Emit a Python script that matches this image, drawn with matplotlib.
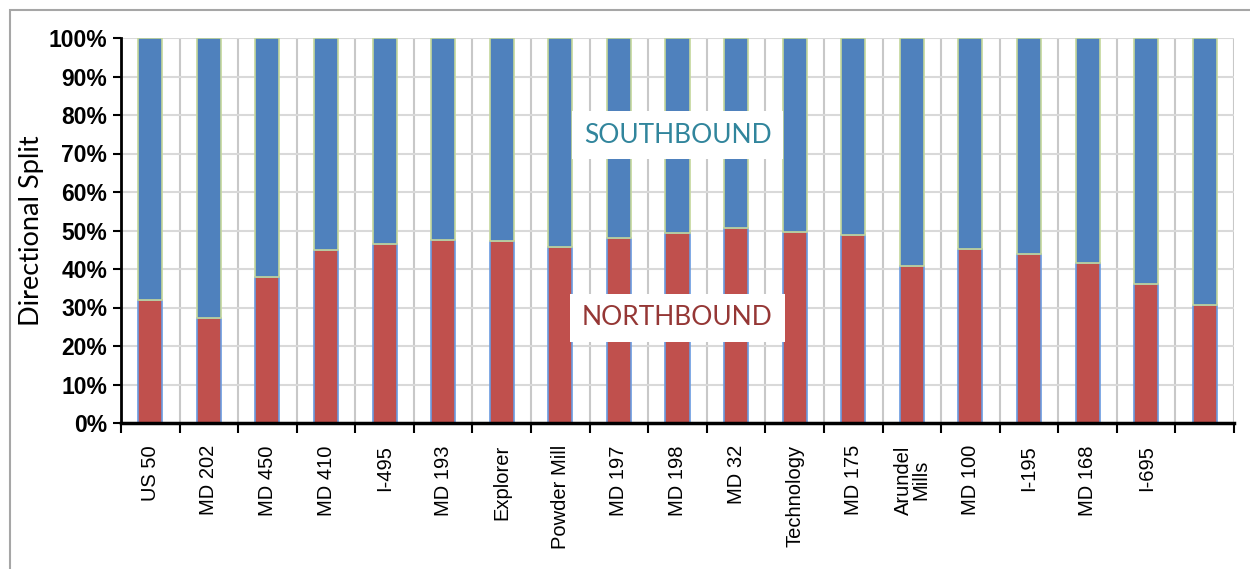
import matplotlib
matplotlib.use("Agg")
import matplotlib.pyplot as plt
from matplotlib.patches import Rectangle
from matplotlib.ticker import FixedLocator, PercentFormatter

# Count locations along the corridor, south to north
locations = ["US 50", "MD 202", "MD 450", "MD 410", "I-495", "MD 193", "Explorer",
             "Powder Mill", "MD 197", "MD 198", "MD 32", "Technology", "MD 175",
             "Arundel\nMills", "MD 100", "I-195", "MD 168", "I-695", ""]

# Share of traffic travelling northbound (%)
northbound = [31.9, 27.3, 38.0, 44.9, 46.4, 47.5, 47.2, 45.6, 48.1, 49.3, 50.7,
              49.7, 48.8, 40.8, 45.3, 43.9, 41.5, 36.2, 30.6]
# Southbound is the remainder of each location's total
southbound = [100 - v for v in northbound]

y_ticks = list(range(0, 101, 10))

NB_COLOR = "#c0504d"
SB_COLOR = "#4f81bd"

fig = plt.figure(figsize=(12.5, 5.69), dpi=100)
W, H = 1250, 569

# Outer chart-area frame
fig.patches.append(Rectangle((10 / W, -0.1), 1.2, (559 / H) + 0.1,
                             transform=fig.transFigure, fill=False,
                             edgecolor="#a6a6a6", linewidth=1.5))

left, right, top, bottom = 121, 1234, 38, 423
ax = fig.add_axes([left / W, 1 - bottom / H, (right - left) / W, (bottom - top) / H])

n = len(locations)
x = list(range(n))
ax.bar(x, northbound, width=0.41, color=NB_COLOR, edgecolor="#6a9be0",
       linewidth=1.2, zorder=3)
ax.bar(x, southbound, width=0.41, bottom=northbound, color=SB_COLOR,
       edgecolor="#c4d79b", linewidth=1.2, zorder=3)

ax.set_xlim(-0.5, n - 0.5)
ax.set_ylim(0, 100)

# Category labels at centres, ticks and vertical grid at category boundaries
ax.set_xticks(x)
ax.set_xticklabels(locations, rotation=90, fontsize=14.5, family="Liberation Sans",
                   va="top", ha="center", linespacing=0.9)
ax.tick_params(axis="x", which="major", length=0, pad=16)
bounds = [i - 0.5 for i in range(n + 1)]
ax.xaxis.set_minor_locator(FixedLocator(bounds))
ax.tick_params(axis="x", which="minor", length=7, width=1.5, direction="out",
               color="black")

ax.set_yticks(y_ticks)
ax.yaxis.set_major_formatter(PercentFormatter(decimals=0))
for lbl in ax.get_yticklabels():
    lbl.set_fontfamily("Liberation Sans")
    lbl.set_fontweight("bold")
    lbl.set_fontsize(16.5)
ax.tick_params(axis="y", length=6, width=1.5, direction="out", pad=4)

ax.grid(axis="y", color="#d9d9d9", linewidth=1.5, zorder=0)
for b in bounds[1:]:
    ax.axvline(b, color="#c8c8c8", linewidth=1.5, zorder=0)

for side in ("top", "right"):
    ax.spines[side].set_visible(False)
ax.spines["left"].set_linewidth(2)
ax.spines["bottom"].set_linewidth(2.5)
ax.spines["left"].set_zorder(4)
ax.spines["bottom"].set_zorder(4)

ax.set_ylabel("Directional Split", fontsize=19.5, family="Lato", labelpad=3)

# Direction labels on white boxes
ax.text(9.0, 74.8, "SOUTHBOUND", fontsize=19, family="Lato", color="#31859c",
        ha="center", va="center", zorder=5,
        bbox=dict(boxstyle="square,pad=0.45", facecolor="white", edgecolor="none"))
ax.text(9.0, 27.3, "NORTHBOUND", fontsize=19, family="Lato", color="#953735",
        ha="center", va="center", zorder=5,
        bbox=dict(boxstyle="square,pad=0.45", facecolor="white", edgecolor="none"))

fig.savefig("out.png", dpi=100, facecolor="white")
